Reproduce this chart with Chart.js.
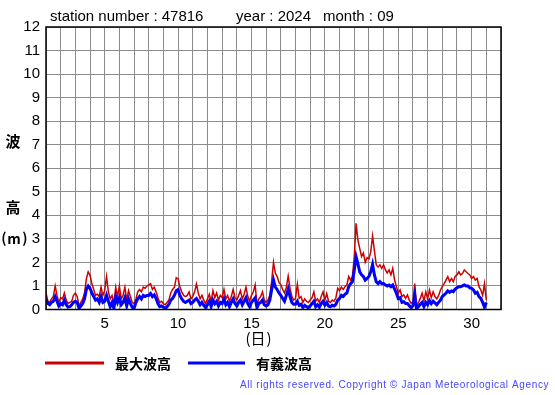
<!DOCTYPE html>
<html>
<head>
<meta charset="utf-8">
<script src="https://cdn.jsdelivr.net/npm/chart.js@4"></script>
<style>
  body { margin: 0; background: #fff; }
  #wrap { width: 555px; height: 395px; }
</style>
</head>
<body>
<div id="wrap"><canvas id="waveChart" width="555" height="395"></canvas></div>
<script>
// station 47816, 2024-09, 3-hourly readings (8 per day), day 1 00:00 .. day 31 00:00
const stationNo = '47816';
const yearLabel = '2024';
const monthLabel = '09';
const firstDay = 1;
const stepsPerDay = 8;
const dayTicks = [5, 10, 15, 20, 25, 30];
const yTicks = [0, 1, 2, 3, 4, 5, 6, 7, 8, 9, 10, 11, 12];

const maxWaveHeight = [
  0.7, 0.35, 0.3, 0.45, 0.55, 1.0, 0.6, 0.3,
  0.5, 0.45, 0.7, 0.4, 0.25, 0.3, 0.35, 0.6,
  0.7, 0.55, 0.15, 0.3, 0.45, 0.7, 1.3, 1.6,
  1.45, 1.1, 0.85, 0.6, 0.65, 0.55, 0.95, 0.6,
  0.8, 1.4, 0.75, 0.45, 0.6, 0.25, 0.95, 0.55,
  1.0, 0.45, 0.6, 0.95, 0.4, 0.8, 0.55, 0.3,
  0.25, 0.45, 0.75, 0.85, 0.75, 0.95, 0.9, 1.0,
  1.05, 1.1, 0.85, 0.95, 0.75, 0.5, 0.3, 0.35,
  0.25, 0.2, 0.3, 0.4, 0.7, 0.85, 0.95, 1.35,
  1.3, 0.95, 0.75, 0.6, 0.55, 0.6, 0.75, 0.45,
  0.55, 0.75, 1.08, 0.7, 0.45, 0.6, 0.4, 0.25,
  0.45, 0.65, 0.35, 0.8, 0.5, 0.7, 0.4, 0.6,
  0.5, 0.85, 0.45, 0.6, 0.35, 0.55, 0.85, 0.5,
  0.4, 0.6, 0.8, 0.45, 0.65, 0.95, 0.55, 0.35,
  0.6, 0.75, 1.05, 0.2, 0.45, 0.55, 0.75, 0.4,
  0.3, 0.4, 0.6, 1.2, 2.0, 1.55, 1.4, 1.15,
  1.05, 0.85, 0.7, 0.95, 1.42, 0.9, 0.55, 0.4,
  0.47, 1.08, 0.47, 0.55, 0.3, 0.45, 0.35, 0.3,
  0.4, 0.5, 0.75, 0.35, 0.45, 0.3, 0.55, 0.75,
  0.4, 0.68, 0.35, 0.3, 0.4, 0.35, 0.5, 0.9,
  0.8, 0.95, 0.85, 0.97, 1.05, 1.4, 1.25, 1.4,
  2.2, 3.66, 2.95, 2.6, 2.25, 2.4, 2.0, 2.2,
  2.15, 2.45, 3.12, 2.5, 1.9, 1.8, 1.9, 1.75,
  1.9, 1.68, 1.55, 1.68, 1.47, 1.75, 1.25, 0.97,
  0.7, 0.83, 0.55, 0.62, 0.47, 0.62, 0.4, 0.26,
  0.33, 1.1, 0.12, 0.3, 0.47, 0.69, 0.36, 0.75,
  0.45, 0.83, 0.5, 0.75, 0.55, 0.45, 0.6, 0.83,
  0.97, 1.1, 1.25, 1.4, 1.18, 1.32, 1.18, 1.4,
  1.47, 1.6, 1.47, 1.53, 1.68, 1.6, 1.53, 1.47,
  1.32, 1.4, 1.25, 1.32, 0.97, 0.83, 0.6, 1.1,
  0.4
];

const sigWaveHeight = [
  0.45, 0.25, 0.2, 0.3, 0.35, 0.55, 0.35, 0.15,
  0.25, 0.2, 0.4, 0.2, 0.1, 0.12, 0.2, 0.3,
  0.35, 0.3, 0.05, 0.15, 0.25, 0.45, 0.85, 1.0,
  0.9, 0.7, 0.55, 0.4, 0.45, 0.3, 0.55, 0.3,
  0.35, 0.6, 0.35, 0.12, 0.3, 0.05, 0.55, 0.3,
  0.5, 0.2, 0.3, 0.5, 0.15, 0.45, 0.25, 0.1,
  0.05, 0.3, 0.45, 0.55, 0.45, 0.6, 0.55, 0.6,
  0.6, 0.68, 0.55, 0.62, 0.47, 0.25, 0.12, 0.15,
  0.1, 0.05, 0.12, 0.22, 0.4, 0.47, 0.6, 0.8,
  0.85, 0.6, 0.45, 0.35, 0.3, 0.35, 0.4, 0.25,
  0.3, 0.4, 0.47, 0.35, 0.2, 0.3, 0.18, 0.08,
  0.2, 0.35, 0.12, 0.4, 0.25, 0.35, 0.15, 0.3,
  0.25, 0.45, 0.2, 0.3, 0.12, 0.3, 0.45, 0.25,
  0.15, 0.3, 0.4, 0.2, 0.35, 0.5, 0.25, 0.12,
  0.3, 0.4, 0.5, 0.08, 0.25, 0.3, 0.4, 0.2,
  0.15, 0.2, 0.4, 0.85, 1.25, 0.95, 0.85, 0.7,
  0.6, 0.47, 0.35, 0.6, 0.87, 0.55, 0.3, 0.22,
  0.22, 0.35, 0.18, 0.22, 0.08, 0.18, 0.12, 0.08,
  0.15, 0.25, 0.35, 0.12, 0.2, 0.1, 0.25, 0.35,
  0.18, 0.3, 0.15, 0.12, 0.18, 0.15, 0.22, 0.4,
  0.47, 0.6, 0.55, 0.65, 0.7, 0.97, 1.1, 1.18,
  1.65, 2.25, 1.95, 1.6, 1.47, 1.4, 1.25, 1.32,
  1.4, 1.6, 1.92, 1.47, 1.18, 1.1, 1.18, 1.1,
  1.1, 1.04, 1.0, 1.04, 0.97, 1.04, 0.87, 0.69,
  0.47, 0.5, 0.3, 0.33, 0.26, 0.26, 0.16, 0.08,
  0.16, 0.6, 0.02, 0.12, 0.22, 0.3, 0.12, 0.3,
  0.2, 0.38, 0.25, 0.35, 0.28, 0.2, 0.3, 0.4,
  0.55, 0.62, 0.69, 0.79, 0.73, 0.79, 0.76, 0.87,
  0.92, 0.97, 0.97, 1.0, 1.04, 1.0, 1.0, 0.92,
  0.9, 0.83, 0.69, 0.73, 0.55, 0.47, 0.3, 0.1,
  0.3
];

const maxLabel = '最大波高';
const sigLabel = '有義波高';

function toPoints(values) {
  return values.map((v, i) => ({ x: firstDay + i / stepsPerDay, y: v }));
}

const latin = '"Liberation Sans", Arial, sans-serif';
const cjk = '"Noto Sans CJK JP", sans-serif';

// texts, legend and frame drawn around the plot
const decorations = {
  id: 'decorations',
  afterDraw(chart) {
    const ctx = chart.ctx;
    const area = chart.chartArea;
    ctx.save();

    ctx.strokeStyle = '#000';
    ctx.lineWidth = 1.5;
    ctx.strokeRect(area.left, area.top, area.right - area.left, area.bottom - area.top);

    ctx.fillStyle = '#000';
    ctx.textBaseline = 'alphabetic';
    ctx.textAlign = 'left';
    ctx.font = '15px ' + latin;
    ctx.fillText('station number : ' + stationNo, 50, 21);
    ctx.fillText('year : ' + yearLabel, 236, 21);
    ctx.fillText('month : ' + monthLabel, 323, 21);

    ctx.textAlign = 'center';
    ctx.textBaseline = 'middle';
    ctx.font = 'bold 15px ' + cjk;
    ctx.fillText('波', 13, 141);
    ctx.fillText('高', 13, 207);
    ctx.font = 'bold 14px ' + cjk;
    ctx.fillText('(', 4, 238);
    ctx.fillText('m', 14, 239);
    ctx.fillText(')', 25, 238);
    ctx.font = '15px ' + cjk;
    ctx.fillText('(', 248, 338);
    ctx.fillText('日', 258, 338);
    ctx.fillText(')', 269, 338);

    // legend
    ctx.lineWidth = 3;
    ctx.strokeStyle = '#cc0000';
    ctx.beginPath(); ctx.moveTo(45, 363); ctx.lineTo(104, 363); ctx.stroke();
    ctx.strokeStyle = '#0000ff';
    ctx.beginPath(); ctx.moveTo(188, 363); ctx.lineTo(245, 363); ctx.stroke();
    ctx.textAlign = 'left';
    ctx.font = 'bold 14px ' + cjk;
    ctx.fillStyle = '#000';
    ctx.fillText(maxLabel, 115, 364);
    ctx.fillText(sigLabel, 256, 364);

    ctx.font = '10px ' + latin;
    ctx.fillStyle = '#4646ff';
    const note = 'All rights reserved. Copyright © Japan Meteorological Agency';
    const plain = ctx.measureText(note).width;
    ctx.letterSpacing = ((309 - plain) / note.length).toFixed(2) + 'px';
    ctx.fillText(note, 240, 385);
    ctx.restore();
  }
};

new Chart(document.getElementById('waveChart'), {
  type: 'line',
  data: {
    datasets: [
      {
        label: sigLabel,
        data: toPoints(sigWaveHeight),
        borderColor: '#0000ff',
        borderWidth: 3,
        pointRadius: 0,
        tension: 0,
        order: 0
      },
      {
        label: maxLabel,
        data: toPoints(maxWaveHeight),
        borderColor: '#cc0000',
        borderWidth: 1.5,
        pointRadius: 0,
        tension: 0,
        order: 1
      }
    ]
  },
  options: {
    responsive: false,
    animation: false,
    layout: { padding: { top: 27, right: 54, left: 0, bottom: 0 } },
    plugins: {
      legend: { display: false },
      tooltip: { enabled: false }
    },
    scales: {
      x: {
        type: 'linear',
        min: 1,
        max: 32,
        afterFit: s => { s.height = 85.5; },
        grid: { color: '#8c8c8c', lineWidth: 1, drawTicks: false },
        border: { display: false },
        ticks: {
          stepSize: 1,
          autoSkip: false,
          maxRotation: 0,
          padding: 5,
          color: '#000',
          font: { family: latin, size: 15 },
          callback: v => dayTicks.includes(v) ? String(v) : ''
        }
      },
      y: {
        min: yTicks[0],
        max: yTicks[yTicks.length - 1],
        afterFit: s => { s.width = 46; },
        grid: { color: '#8c8c8c', lineWidth: 1, drawTicks: false },
        border: { display: false },
        ticks: {
          stepSize: 1,
          padding: 6,
          color: '#000',
          font: { family: latin, size: 15 },
          callback: v => yTicks.includes(v) ? String(v) : ''
        }
      }
    }
  },
  plugins: [decorations]
});
</script>
</body>
</html>
